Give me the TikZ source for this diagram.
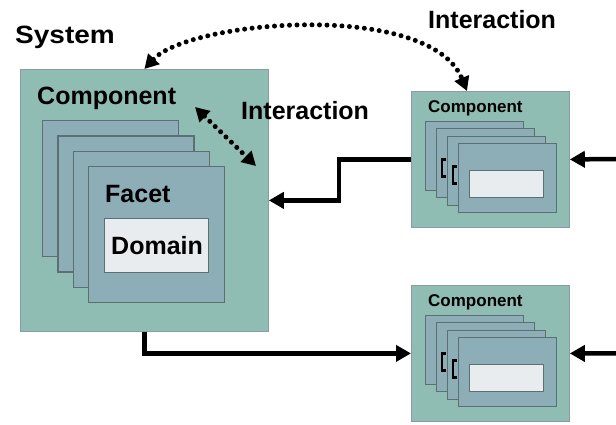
\documentclass[tikz,border=0pt]{standalone}
\usepackage{fontspec}
\setmainfont{Liberation Sans}
\usetikzlibrary{arrows.meta}
\definecolor{compfill}{HTML}{8FBDB3}
\definecolor{facetfill}{HTML}{8DADB7}
\definecolor{domainfill}{HTML}{E8ECEF}
\definecolor{edgegray}{HTML}{5C7074}
\tikzset{
  compbox/.style={draw=edgegray!70, line width=0.8pt, fill=compfill, anchor=north west, inner sep=0pt},
  facetbox/.style={draw=edgegray, line width=1.1pt, fill=facetfill, anchor=north west, inner sep=0pt},
  domainbox/.style={draw=edgegray, line width=1.1pt, fill=domainfill, anchor=north west, inner sep=0pt},
  biglabel/.style={anchor=base west, inner sep=0pt, font=\fontsize{25}{29}\selectfont\bfseries},
  smalllabel/.style={anchor=base west, inner sep=0pt, font=\fontsize{17}{20}\selectfont\bfseries},
  conn/.style={line width=4.5pt, -{Triangle[length=15pt,width=16pt]}},
  dots/.style={line width=5pt, line cap=round, dash pattern=on 0pt off 7.5pt,
    {Triangle[length=14pt,width=15pt]}-{Triangle[length=14pt,width=15pt]}},
}
\begin{document}
\begin{tikzpicture}[x=1pt, y=-1pt]
  \useasboundingbox (0,0) rectangle (616,424);
  % System with its component
  \node[biglabel] (syslabel) at (15,43) {\scalebox{1.12}[1]{System}};
  \node[compbox, minimum width=248pt, minimum height=262pt] (sys) at (20,69) {};
  \node[biglabel] (syscomp) at (37,104) {Component};
  \foreach \i in {0,...,3}
  {
    \node[facetbox, minimum width=136pt, minimum height=136pt] (facet\i) at (42+15.4*\i, 120+15.4*\i) {};
  }
  \node[biglabel] (facetlabel) at (105,202) {Facet};
  \node[domainbox, minimum width=104pt, minimum height=54pt] (domain) at (104,218) {};
  \node[biglabel] (domainlabel) at (111,254) {Domain};
  \node[biglabel] (innerlabel) at (241,119) {Interaction};
  \node[biglabel] (toplabel) at (428,28) {Interaction};

  % Remote components
  \foreach \name/\y in {compA/91, compB/285}
  {
    \node[compbox, minimum width=158pt, minimum height=136pt] (\name) at (411,\y) {};
    \node[smalllabel] (\name label) at (428,\y+21) {Component};
    \foreach \i in {0,...,3}
    {
      \node[facetbox, minimum width=98pt, minimum height=69pt] (\name f\i) at (425+11*\i, \y+30+7.3*\i) {};
      \ifnum\i>0 \ifnum\i<3
        \draw[line width=2.6pt] (\name f\i.north west) ++(10,31) -- ++(-4,0) -- ++(0,17) -- ++(4,0);
      \fi\fi
    }
    \node[domainbox, minimum width=74pt, minimum height=27pt] (\name d) at (469,\y+79) {};
  }

  % Connectors
  \coordinate (inA) at (620,159);
  \coordinate (inB) at (620,353.5);
  \draw[conn] (compA.west) -- ++(-72,0) |- (sys.east);
  \draw[conn] (sys.south) |- (compB.west);
  \draw[conn] (inA) -- (compA.east);
  \draw[conn] (inB) -- (compB.east);

  % Interactions
  \coordinate (ia) at (195,107);
  \coordinate (ib) at (256,166);
  \draw[dots] (ia) -- (ib);
  \draw[dots] (sys.north) .. controls (190,20) and (430,0) .. ([xshift=56pt]compA.north west);
\end{tikzpicture}
\end{document}
